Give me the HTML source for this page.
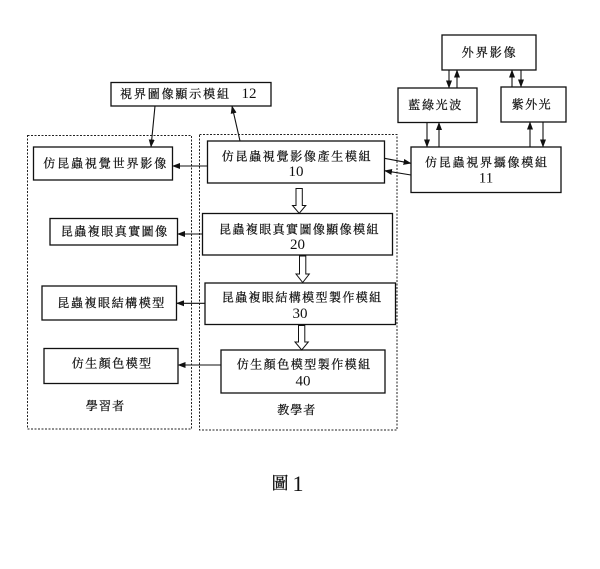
<!DOCTYPE html>
<html><head><meta charset="utf-8">
<style>
html,body{margin:0;padding:0;background:#fff;}
svg{display:block;}
.cj{font-family:"Liberation Serif","Noto Serif CJK SC","Noto Serif CJK TC",serif;font-size:12px;fill:#111;stroke:#111;stroke-width:0.25;}
.nm{font-family:"Liberation Serif",serif;font-size:15px;fill:#111;}
</style></head>
<body>
<svg width="600" height="569" viewBox="0 0 600 569" xmlns="http://www.w3.org/2000/svg">
<defs>
<marker id="ah" markerWidth="8" markerHeight="6" refX="7.5" refY="3" orient="auto" markerUnits="userSpaceOnUse">
<path d="M0,0 L8,3 L0,6 Z" fill="#111"/>
</marker>
</defs>
<rect width="600" height="569" fill="#fff"/>

<!-- dashed containers -->
<rect x="27.5" y="135.5" width="164" height="293.5" fill="none" stroke="#222" stroke-width="1" stroke-dasharray="2 1.5"/>
<rect x="199.5" y="134.5" width="197.5" height="295.5" fill="none" stroke="#222" stroke-width="1" stroke-dasharray="2 1.5"/>

<g fill="#fff" stroke="#111" stroke-width="1.3">
<!-- right cluster -->
<rect x="442" y="35" width="94" height="35"/>
<rect x="398" y="88" width="79" height="34.5"/>
<rect x="501" y="87" width="65" height="35"/>
<rect x="411" y="147" width="150" height="45.5"/>
<!-- 12 -->
<rect x="111" y="82.5" width="160" height="23.5"/>
<!-- left boxes -->
<rect x="33.5" y="147" width="139" height="33"/>
<rect x="50" y="218.5" width="127.5" height="26.5"/>
<rect x="42" y="286" width="134.5" height="34"/>
<rect x="44" y="348.5" width="134" height="35"/>
<!-- right boxes -->
<rect x="207.5" y="141" width="177" height="42"/>
<rect x="202.5" y="213.5" width="190" height="41.5"/>
<rect x="205" y="283" width="190.5" height="41.5"/>
<rect x="221" y="350" width="164" height="43"/>
</g>

<!-- thin arrows -->
<g stroke="#111" stroke-width="1.1" fill="none" marker-end="url(#ah)">
<line x1="449" y1="70" x2="449" y2="88"/>
<line x1="457" y1="88" x2="457" y2="70"/>
<line x1="512" y1="87" x2="512" y2="70"/>
<line x1="521" y1="70" x2="521" y2="87"/>
<line x1="427" y1="122.5" x2="427" y2="147"/>
<line x1="439" y1="147" x2="439" y2="122.5"/>
<line x1="530" y1="147" x2="530" y2="122"/>
<line x1="543" y1="122" x2="543" y2="147"/>
<line x1="384.5" y1="158.3" x2="411" y2="163.3"/>
<line x1="411" y1="175" x2="384.5" y2="170.7"/>
<line x1="155" y1="106" x2="151" y2="147"/>
<line x1="240" y1="141" x2="232" y2="106"/>
<line x1="207.5" y1="166" x2="172.5" y2="166"/>
<line x1="202.5" y1="234" x2="177.5" y2="234"/>
<line x1="205" y1="303.3" x2="176.5" y2="303.3"/>
<line x1="221" y1="365" x2="178" y2="365"/>
</g>

<!-- hollow arrows -->
<g fill="#fff" stroke="#111" stroke-width="1">
<path d="M296,188.5 L302.3,188.5 L302.3,205.5 L305.8,205.5 L299.2,213.3 L292.5,205.5 L296,205.5 Z"/>
<path d="M299.5,256 L305.8,256 L305.8,274 L309.3,274 L302.7,282.5 L296,274 L299.5,274 Z"/>
<path d="M298.5,325.5 L304.8,325.5 L304.8,342 L308.3,342 L301.7,350 L295,342 L298.5,342 Z"/>
</g>

<!-- labels -->
<g class="cj" text-anchor="start" dominant-baseline="central">
<text x="461.7" y="52.5" textLength="54" lengthAdjust="spacing">外界影像</text>
<text x="408.3" y="105" textLength="53" lengthAdjust="spacing">藍綠光波</text>
<text x="511.7" y="104.5" textLength="39" lengthAdjust="spacing">紫外光</text>
<text x="425" y="162.7" textLength="122" lengthAdjust="spacing">仿昆蟲視界攝像模組</text>
<text x="120" y="94" textLength="109" lengthAdjust="spacing">視界圖像顯示模組</text>
<text x="43.3" y="163.5" textLength="123" lengthAdjust="spacing">仿昆蟲視覺世界影像</text>
<text x="221.7" y="156.7" textLength="149" lengthAdjust="spacing">仿昆蟲視覺影像產生模組</text>
<text x="60.7" y="231.7" textLength="106.5" lengthAdjust="spacing">昆蟲複眼真實圖像</text>
<text x="219" y="229.3" textLength="159.5" lengthAdjust="spacing">昆蟲複眼真實圖像顯像模組</text>
<text x="57.3" y="303" textLength="107" lengthAdjust="spacing">昆蟲複眼結構模型</text>
<text x="221.7" y="297.3" textLength="159.5" lengthAdjust="spacing">昆蟲複眼結構模型製作模組</text>
<text x="71.7" y="363.3" textLength="79.5" lengthAdjust="spacing">仿生顏色模型</text>
<text x="236.7" y="364.3" textLength="133.5" lengthAdjust="spacing">仿生顏色模型製作模組</text>
<text x="85.7" y="406" textLength="38.5" lengthAdjust="spacing">學習者</text>
<text x="277.3" y="410" textLength="38" lengthAdjust="spacing">教學者</text>
</g>
<g class="nm" text-anchor="middle" dominant-baseline="central">
<text x="486" y="178.5">11</text>
<text x="249" y="94">12</text>
<text x="296" y="171.8">10</text>
<text x="297.5" y="245">20</text>
<text x="300" y="314">30</text>
<text x="303" y="381.7">40</text>
</g>
<text x="280" y="483.5" dominant-baseline="central" text-anchor="middle" style="font-family:'Liberation Serif','Noto Serif CJK SC',serif;font-size:17px;fill:#111;stroke:#111;stroke-width:0.3;">圖</text>
<text x="298" y="483.5" dominant-baseline="central" text-anchor="middle" style="font-family:'Liberation Serif',serif;font-size:22px;fill:#111;">1</text>
</svg>
</body></html>
